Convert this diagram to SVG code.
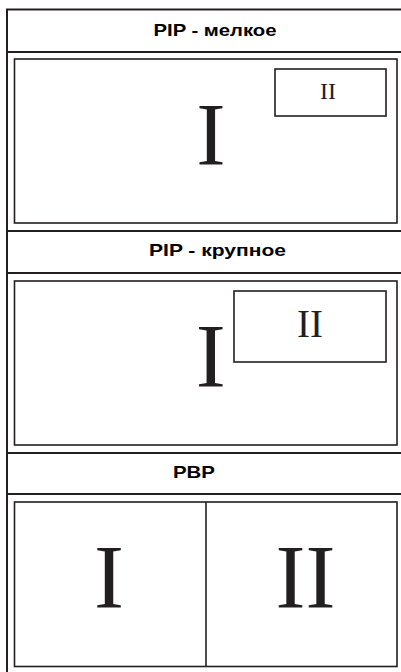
<svg xmlns="http://www.w3.org/2000/svg" width="401" height="672" viewBox="0 0 401 672">
<style>
.ln{stroke:#231f20;stroke-width:2;fill:none}
.bx{stroke:#231f20;stroke-width:1.6;fill:none}
.ttl{font-family:"Liberation Sans",Arial,sans-serif;font-weight:bold;font-size:17px;fill:#000;text-anchor:middle}
.rn{font-family:"Liberation Serif","Times New Roman",serif;fill:#231f20;text-anchor:middle}
</style>
<rect width="401" height="672" fill="#fff"/>
<g id="frame">
<line class="ln" x1="7" y1="9.5" x2="7" y2="672"/>
<line class="ln" x1="6" y1="9.5" x2="401" y2="9.5"/>
<line class="ln" x1="7" y1="52" x2="401" y2="52"/>
<line class="ln" x1="7" y1="231" x2="401" y2="231"/>
<line class="ln" x1="7" y1="273" x2="401" y2="273"/>
<line class="ln" x1="7" y1="453" x2="401" y2="453"/>
<line class="ln" x1="7" y1="494" x2="401" y2="494"/>
</g>
<g id="pip-small">
<text class="ttl" x="215" y="35.7" textLength="123" lengthAdjust="spacingAndGlyphs">PIP - мелкое</text>
<rect class="bx" x="14.5" y="59" width="382.5" height="164"/>
<text class="rn" x="211" y="164" font-size="88">I</text>
<rect class="bx" x="275" y="69" width="111" height="47"/>
<text class="rn" x="328" y="99" font-size="24">II</text>
</g>
<g id="pip-large">
<text class="ttl" x="217.5" y="256" textLength="137" lengthAdjust="spacingAndGlyphs">PIP - крупное</text>
<rect class="bx" x="14.5" y="281" width="382.5" height="164"/>
<text class="rn" x="210.7" y="386.5" font-size="90">I</text>
<rect class="bx" x="234" y="291" width="152" height="71"/>
<text class="rn" x="310" y="336.5" font-size="39">II</text>
</g>
<g id="pbp">
<text class="ttl" x="194" y="477.7" textLength="42" lengthAdjust="spacingAndGlyphs">PBP</text>
<rect class="bx" x="14.5" y="502" width="382.5" height="164.5"/>
<line class="bx" x1="206" y1="502" x2="206" y2="666.5"/>
<text class="rn" x="109" y="607.5" font-size="90">I</text>
<text class="rn" x="305.5" y="607.5" font-size="90">II</text>
</g>
</svg>
